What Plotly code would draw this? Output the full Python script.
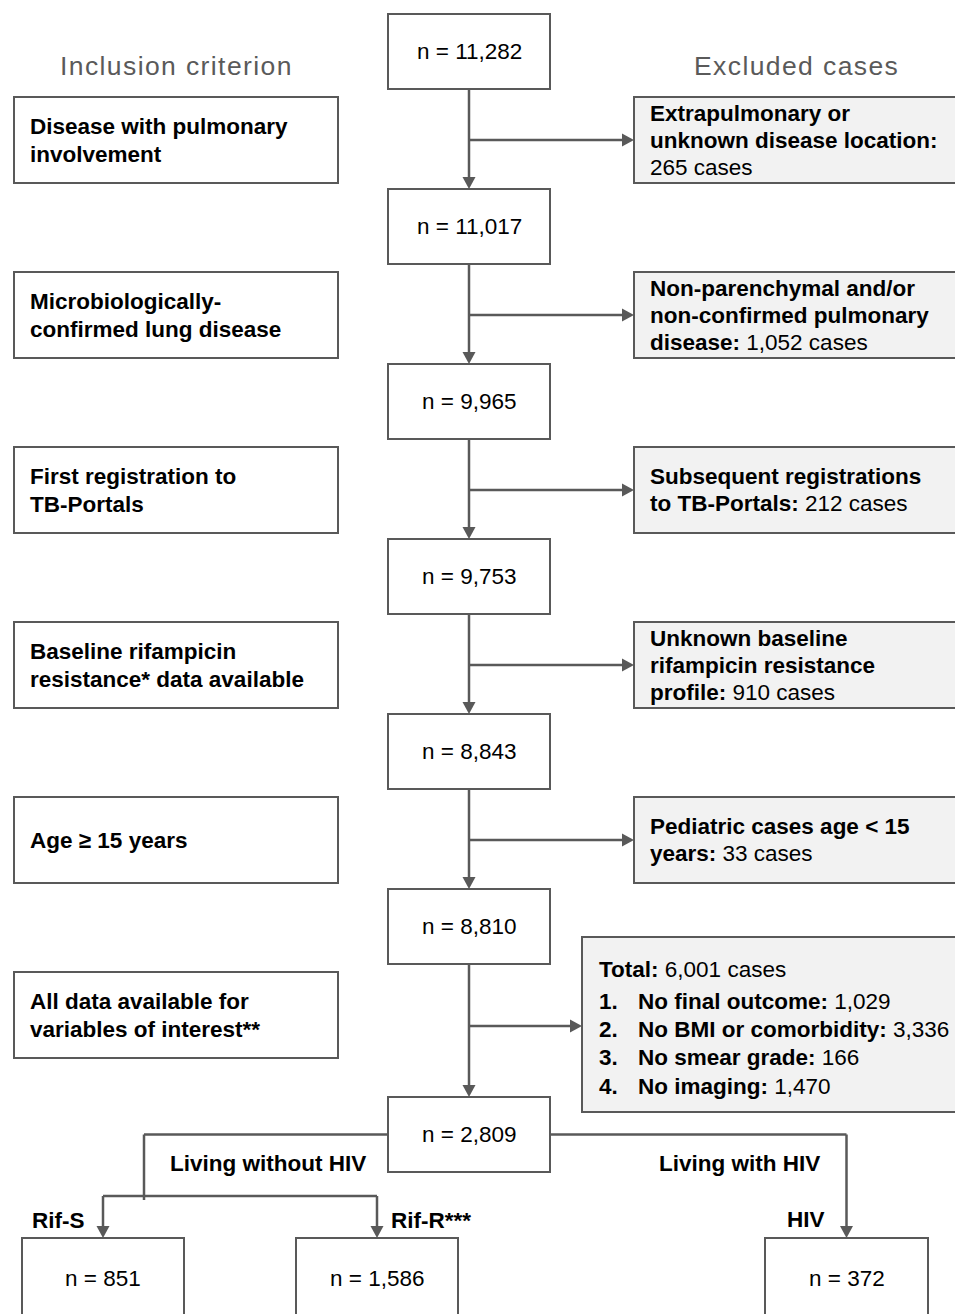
import plotly.graph_objects as go

# ---------------- data ----------------
stage_counts = [11282, 11017, 9965, 9753, 8843, 8810, 2809]
inclusion_criteria = [
    ["Disease with pulmonary", "involvement"],
    ["Microbiologically-", "confirmed lung disease"],
    ["First registration to", "TB-Portals"],
    ["Baseline rifampicin", "resistance* data available"],
    ["Age ≥ 15 years"],
    ["All data available for", "variables of interest**"],
]
excluded_labels = [
    ["Extrapulmonary or", "unknown disease location:", ""],
    ["Non-parenchymal and/or", "non-confirmed pulmonary", "disease:"],
    ["Subsequent registrations", "to TB-Portals:"],
    ["Unknown baseline", "rifampicin resistance", "profile:"],
    ["Pediatric cases age < 15", "years:"],
]
excluded_counts = [265, 1052, 212, 910, 33]
final_total = 6001
final_reasons = ["No final outcome:", "No BMI or comorbidity:", "No smear grade:", "No imaging:"]
final_reason_counts = [1029, 3336, 166, 1470]
branch_labels = ["Living without HIV", "Living with HIV"]
subgroup_labels = ["Rif-S", "Rif-R***", "HIV"]
subgroup_counts = [851, 1586, 372]

# ---------------- style / geometry ----------------
W, H = 963, 1314
OFF = 8  # default page body margin
LC = "#595959"
FILL = "#f2f2f2"
FONT = "Liberation Sans, Arial, sans-serif"
FS = 22.5
LS = 27.5
LW = 2.5
CX = 469
MB_X0, MB_X1, MB_H = 388, 550, 75
STEP = 175
main_tops = [14 + STEP * i for i in range(6)] + [1097]
SB_TOP0, SB_H = 97, 86
LB_X0, LB_X1 = 14, 338
RB_X0, RB_X1 = 634, 985
AH_L, AH_W = 12, 6.5

shapes = []
annotations = []


def rect(x0, y0, x1, y1, fill="white"):
    shapes.append(dict(type="rect", xref="x", yref="y", x0=x0, y0=y0, x1=x1, y1=y1,
                       line=dict(color=LC, width=2), fillcolor=fill, layer="below"))


def line(x0, y0, x1, y1):
    shapes.append(dict(type="line", xref="x", yref="y", x0=x0, y0=y0, x1=x1, y1=y1,
                       line=dict(color=LC, width=LW), layer="below"))


def head_right(x, y):
    shapes.append(dict(type="path", xref="x", yref="y",
                       path=f"M {x} {y} L {x-AH_L} {y-AH_W} L {x-AH_L} {y+AH_W} Z",
                       fillcolor=LC, line=dict(width=0), layer="below"))


def head_down(x, y):
    shapes.append(dict(type="path", xref="x", yref="y",
                       path=f"M {x} {y} L {x-AH_W} {y-AH_L} L {x+AH_W} {y-AH_L} Z",
                       fillcolor=LC, line=dict(width=0), layer="below"))


def text(x, y, s, anchor="left", size=FS, color="#000000"):
    annotations.append(dict(x=x, y=y, xref="x", yref="y", text=s, showarrow=False,
                            xanchor=anchor, yanchor="middle", align=anchor,
                            font=dict(family=FONT, size=size, color=color)))


def lines_block(x, yc, items, spacing=LS):
    n = len(items)
    for i, s in enumerate(items):
        text(x, yc + (i - (n - 1) / 2) * spacing, s)


# headers
hdr = "<span style='letter-spacing:1.4px'>{}</span>"
text(176, 66, hdr.format("Inclusion criterion"), anchor="center", size=26.5, color="#5a5a5a")
text(796, 66, hdr.format("Excluded cases"), anchor="center", size=26.5, color="#5a5a5a")

# main column boxes
for i, n in enumerate(stage_counts):
    t = main_tops[i]
    rect(MB_X0, t, MB_X1, t + MB_H)
    text(CX, t + MB_H / 2, f"n = {n:,}", anchor="center")

# vertical connectors between main boxes
for i in range(len(stage_counts) - 1):
    y0 = main_tops[i] + MB_H
    y1 = main_tops[i + 1]
    line(CX, y0, CX, y1 - AH_L + 1)
    head_down(CX, y1)

# inclusion (left) and excluded (right) boxes
for k, crit in enumerate(inclusion_criteria):
    top = SB_TOP0 + STEP * k
    yc = top + SB_H / 2
    rect(LB_X0, top, LB_X1, top + SB_H)
    lines_block(28, yc, [f"<b>{s}</b>" for s in crit], spacing=28)

for k, lab in enumerate(excluded_labels):
    top = SB_TOP0 + STEP * k
    yc = top + SB_H / 2
    rect(RB_X0, top, RB_X1, top + SB_H, fill=FILL)
    items = [f"<b>{s}</b>" for s in lab[:-1]]
    last = lab[-1]
    cnt = f"{excluded_counts[k]:,} cases"
    items.append(f"<b>{last}</b> {cnt}" if last else cnt)
    lines_block(648, yc, items, spacing=27)
    line(CX, yc, RB_X0 - AH_L + 1, yc)
    head_right(RB_X0, yc)

# final exclusion box
FB_X0, FB_Y0, FB_Y1 = 582, 937, 1112
rect(FB_X0, FB_Y0, RB_X1, FB_Y1, fill=FILL)
text(597, 969, f"<b>Total:</b> {final_total:,} cases")
for j, (r, c) in enumerate(zip(final_reasons, final_reason_counts)):
    yy = 1001 + j * 28.4
    text(597, yy, f"<b>{j+1}.</b>")
    text(636, yy, f"<b>{r}</b> {c:,}")
arrow_y = 1026
line(CX, arrow_y, FB_X0 - AH_L + 1, arrow_y)
head_right(FB_X0, arrow_y)

# bottom branches
last_top = main_tops[-1]
ymid = last_top + MB_H / 2
sub_top = 1238
sub_boxes = [(22, 184), (296, 458), (765, 928)]
sub_cx = [(a + b) / 2 for a, b in sub_boxes]
LJX, BRY = 144, 1196
line(MB_X0, ymid, LJX, ymid)
line(LJX, ymid, LJX, BRY + 4)
line(sub_cx[0], BRY, sub_cx[1], BRY)
for cx in sub_cx[:2]:
    line(cx, BRY, cx, sub_top - AH_L + 1)
    head_down(cx, sub_top)
line(MB_X1, ymid, sub_cx[2], ymid)
line(sub_cx[2], ymid, sub_cx[2], sub_top - AH_L + 1)
head_down(sub_cx[2], sub_top)

text(268, 1163, f"<b>{branch_labels[0]}</b>", anchor="center")
text(739, 1163, f"<b>{branch_labels[1]}</b>", anchor="center")
text(30, 1220, f"<b>{subgroup_labels[0]}</b>")
text(389, 1220, f"<b>{subgroup_labels[1]}</b>")
text(827, 1219, f"<b>{subgroup_labels[2]}</b>", anchor="right")

for (a, b), n in zip(sub_boxes, subgroup_counts):
    rect(a, sub_top, b, sub_top + 85)
    text((a + b) / 2, 1278, f"n = {n:,}", anchor="center")

fig = go.Figure()
fig.update_layout(
    width=W, height=H - OFF,
    margin=dict(l=0, r=0, t=0, b=0),
    paper_bgcolor="white", plot_bgcolor="white",
    xaxis=dict(range=[OFF, W + OFF], visible=False, fixedrange=True),
    yaxis=dict(range=[H, OFF], visible=False, fixedrange=True),
    shapes=shapes, annotations=annotations, showlegend=False,
)
fig.write_html("out.html")
